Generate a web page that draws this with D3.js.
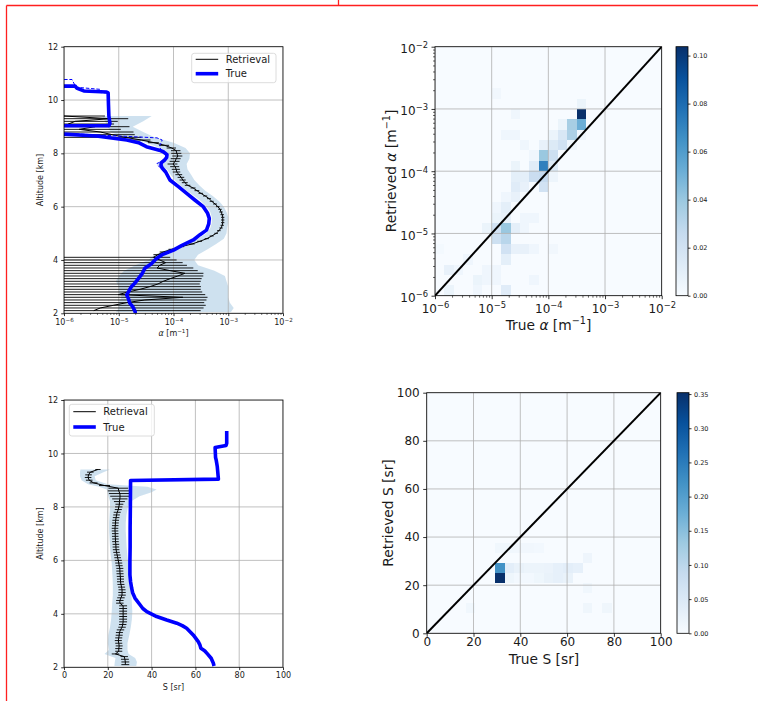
<!DOCTYPE html>
<html><head><meta charset="utf-8">
<script src="https://cdn.jsdelivr.net/npm/d3@7"></script>
<style>
body{margin:0;background:#fff}
svg{display:block}
</style>
</head><body>
<script>
// ---------------- data ----------------
// Retrieval grid (km)
const retAlt = [2.1,2.2,2.3,2.4,2.5,2.6,2.7,2.8,2.9,3.0,
  3.1,3.2,3.3,3.4,3.5,3.6,3.7,3.8,3.9,4.0,
  4.1,4.2,4.3,4.4,4.5,4.6,4.7,4.8,4.9,5.0,
  5.1,5.2,5.3,5.4,5.5,5.6,5.7,5.8,5.9,6.0,
  6.1,6.2,6.3,6.4,6.5,6.6,6.7,6.8,6.9,7.0,
  7.1,7.2,7.3,7.4,7.5,7.6,7.7,7.8,7.9,8.0,
  8.1,8.2,8.3,8.4,8.5,8.6,8.7,8.8,8.9,9.0,
  9.1,9.2,9.3,9.4];

// Retrieved extinction α [m^-1] and its 1σ error
const retAlpha = [3.5e-6,4.6e-6,8.0e-6,1.4e-5,3.0e-5,1.48e-4,9.8e-6,1.48e-5,2.45e-5,3.7e-5,
  5.2e-5,6.5e-5,8.7e-5,1.2e-4,1.62e-4,8.7e-5,5.0e-5,5.6e-5,7.2e-5,5.6e-5,
  4.3e-5,5.2e-5,6.5e-5,9.3e-5,1.38e-4,2.19e-4,3.02e-4,4.07e-4,5.0e-4,6.03e-4,
  6.76e-4,7.4e-4,7.76e-4,7.94e-4,7.94e-4,7.94e-4,7.76e-4,7.4e-4,7.08e-4,6.46e-4,
  5.75e-4,5.0e-4,4.47e-4,3.8e-4,3.16e-4,2.69e-4,2.29e-4,1.82e-4,1.62e-4,1.48e-4,
  1.38e-4,1.26e-4,1.15e-4,1.12e-4,1.07e-4,9.8e-5,1.07e-4,1.12e-4,1.2e-4,1.15e-4,
  1.12e-4,9.3e-5,6.9e-5,4.4e-5,2.6e-5,1.3e-5,7.6e-6,4.6e-6,1.9e-6,3.7e-6,
  1.2e-6,1.6e-6,6.9e-6,1.0e-6];
const retAlphaErr = [3.1e-4,3.5e-4,3.8e-4,3.5e-4,3.7e-4,2.7e-4,3.7e-4,3.2e-4,2.9e-4,2.8e-4,
  2.5e-4,2.5e-4,2.4e-4,2.3e-4,1.9e-4,1.9e-4,1.8e-4,1.2e-4,7.5e-5,5.8e-5,
  4.4e-5,9e-6,9e-6,1.2e-5,1.8e-5,2.4e-5,3.0e-5,3.6e-5,4.2e-5,4.6e-5,
  5.0e-5,5.2e-5,5.4e-5,5.5e-5,5.6e-5,5.6e-5,5.6e-5,5.4e-5,5.2e-5,5.0e-5,
  4.6e-5,4.2e-5,3.8e-5,3.4e-5,3.0e-5,2.7e-5,2.4e-5,2.1e-5,2.0e-5,1.9e-5,
  1.9e-5,1.8e-5,1.8e-5,1.9e-5,2.0e-5,2.0e-5,2.2e-5,2.3e-5,2.5e-5,2.4e-5,
  2.2e-5,1.8e-5,1.4e-5,1.0e-5,1.2e-5,1.3e-5,1.2e-5,1.4e-5,9e-6,1.2e-5,
  7e-6,8e-6,8e-6,4.6e-6];

// Spread of the α retrieval (shaded envelope)
const alphaBandAlt = [2.05,2.2,2.4,2.6,2.8,3.0,3.2,3.4,3.6,3.8,4.0,4.2,4.4,4.6,4.8,5.0,5.2,5.4,5.6,5.8,
  6.0,6.2,6.4,6.6,6.8,7.0,7.2,7.4,7.6,7.8,8.0,8.2,8.4,8.6,8.8,9.0,9.2,9.4];
const alphaBandLo = [8.9e-6,1.0e-5,1.0e-5,1.12e-5,1.0e-5,1.0e-5,8.9e-6,1.0e-5,1.26e-5,2.0e-5,3.5e-5,4.5e-5,7.9e-5,1.6e-4,2.8e-4,4.0e-4,4.7e-4,5.0e-4,5.0e-4,4.7e-4,
  4.0e-4,3.2e-4,2.4e-4,1.74e-4,1.32e-4,1.05e-4,8.9e-5,7.6e-5,5.0e-5,7.1e-5,7.6e-5,5.6e-5,3.2e-5,1.26e-5,7.1e-6,6.3e-6,5.6e-6,5.0e-6];
const alphaBandHi = [1.12e-3,1.26e-3,1.07e-3,1.0e-3,1.0e-3,1.0e-3,9.3e-4,8.7e-4,5.6e-4,2.8e-4,2.4e-4,2.8e-4,4.2e-4,6.0e-4,8.3e-4,9.3e-4,9.5e-4,1.0e-3,1.0e-3,9.3e-4,
  8.3e-4,6.8e-4,5.2e-4,3.8e-4,2.95e-4,2.4e-4,2.1e-4,1.8e-4,1.74e-4,1.95e-4,2.0e-4,1.66e-4,1.0e-4,4.5e-5,2.8e-5,1.8e-5,2.8e-5,4.0e-5];

// True α profile (0 = no aerosol, off the log axis)
const trueAlt = [10.52,10.52,10.45,10.34,10.30,10.27,9.80,9.40,9.12,9.04,9.02,8.73,8.72,8.65,8.50,8.40,8.25,8.12,8.06,7.95,
  7.85,7.75,7.65,7.55,7.45,7.30,7.00,6.75,6.50,6.25,6.00,5.75,5.56,5.35,5.12,4.95,4.75,4.55,4.37,4.20,
  4.06,3.85,3.69,3.50,3.31,3.15,3.00,2.85,2.69,2.55,2.37,2.25,2.06,2.00];
const trueAlpha = [0,1.6e-6,1.7e-6,2.3e-6,6.0e-6,6.4e-6,6.5e-6,6.6e-6,6.9e-6,6.6e-6,0,0,1.0e-6,3.9e-6,1.4e-5,2.3e-5,3.2e-5,5.5e-5,6.5e-5,7.6e-5,
  7.5e-5,6.9e-5,6.0e-5,5.9e-5,6.2e-5,7.2e-5,8.6e-5,1.23e-4,1.74e-4,2.45e-4,3.5e-4,4.2e-4,4.5e-4,4.4e-4,4.0e-4,3.05e-4,2.3e-4,1.43e-4,1.0e-4,6.2e-5,
  4.9e-5,3.9e-5,3.0e-5,2.7e-5,2.3e-5,2.0e-5,1.7e-5,1.55e-5,1.4e-5,1.5e-5,1.6e-5,1.8e-5,2.0e-5,2.0e-5];
// True α at native resolution (dashed)
const trueFineAlt = [10.77,10.77,10.48,10.40,10.28,10.26,9.12,9.04,9.02,8.76,8.74,8.66,8.58,8.50,8.40,8.30,8.15,8.06,7.95,7.75,7.62,7.52,7.42,7.30,7.00];
const trueFineAlpha = [0,1.4e-6,1.65e-6,4.6e-6,4.6e-6,6.4e-6,6.9e-6,6.6e-6,0,0,1.3e-6,8e-6,5.0e-5,6.2e-5,6.0e-5,5.6e-5,5.8e-5,6.5e-5,7.6e-5,6.9e-5,5.0e-5,5.3e-5,6.2e-5,7.2e-5,8.6e-5];

// Retrieved lidar ratio S [sr] and 1σ error (same grid as retAlt)
const retS = [28.0,28.0,27.8,27.5,23.5,25.0,25.0,25.2,25.0,24.8,
  25.0,25.2,25.3,25.8,26.5,26.8,27.0,27.0,27.0,27.0,
  27.0,27.0,27.0,25.5,25.5,26.0,26.5,26.5,26.5,26.3,
  26.0,25.8,25.8,25.7,25.6,25.5,25.5,25.2,25.0,24.8,
  24.5,24.3,24.0,23.8,23.7,23.7,23.5,23.5,23.4,23.4,
  23.3,23.3,23.4,23.5,23.6,23.8,24.0,24.3,24.8,25.0,
  25.3,25.3,25.5,25.6,25.5,25.0,24.8,18.5,13.5,11.5,
  11.0,11.2,12.0,15.5];
const retSErr = [1.8,1.8,1.8,1.7,1.7,1.6,1.6,1.6,1.6,1.6,
  1.6,1.6,1.6,1.7,1.7,1.7,1.8,1.8,1.8,1.8,
  1.8,1.8,1.8,1.7,1.7,1.7,1.7,1.7,1.6,1.6,
  1.6,1.6,1.6,1.6,1.6,1.6,1.6,1.6,1.6,1.6,
  1.5,1.5,1.5,1.5,1.5,1.5,1.5,1.5,1.5,1.5,
  1.5,1.5,1.5,1.5,1.5,1.5,1.5,1.6,1.6,1.7,
  1.8,2.5,3.5,4.5,5.0,5.0,4.5,2.5,1.8,1.5,
  1.5,1.5,1.5,1.2];

// Spread of the S retrieval (shaded envelope)
const sBandAlt = [2.05,2.2,2.35,2.5,2.65,2.9,3.2,3.5,3.8,4.1,4.4,4.7,5.0,5.3,5.6,5.9,6.2,6.5,6.8,7.1,
  7.4,7.7,8.0,8.2,8.4,8.55,8.65,8.75,8.85,9.0,9.15,9.3,9.4];
const sBandLo = [23.0,23.2,23.5,18.5,20.5,20.0,20.2,21.0,21.5,21.8,22.0,22.3,22.3,22.2,22.0,21.8,21.3,21.0,20.8,20.6,
  20.6,20.8,21.0,21.0,20.3,19.8,19.5,16.0,11.0,8.0,7.3,7.3,7.5];
const sBandHi = [33.0,33.3,32.5,29.5,29.0,29.0,29.8,30.5,31.0,31.2,31.0,30.8,30.6,30.4,29.8,29.3,28.9,28.6,28.4,28.2,
  28.2,28.5,29.2,30.5,34.5,40.0,42.3,38.0,20.0,14.5,14.0,18.0,21.0];

// True S profile
const trueSAlt = [2.05,2.15,2.34,2.50,2.62,2.71,2.85,2.96,3.21,3.46,3.56,3.65,3.77,3.90,4.08,4.20,4.34,4.59,4.80,4.96,
  5.20,5.46,5.96,6.50,7.20,8.00,8.99,9.04,9.50,9.75,9.85,10.22,10.30,10.38,10.84];
const trueS = [68.5,68.2,67.2,65.5,64.2,62.5,62.0,61.3,59.0,56.0,54.0,51.5,46.9,42.3,37.8,36.0,34.7,32.4,31.3,30.9,
  30.4,30.1,30.1,30.2,30.2,30.3,30.4,70.5,70.0,69.5,69.2,69.0,74.0,74.3,74.3];

// 2-D histograms (fraction of samples); [true bin, retrieved bin, value], 24 x 24 bins
const alphaHist = [
  [15,17,0.1037],[15,16,0.052],[15,18,0.006],[15,15,0.004],[14,16,0.036],[14,15,0.034],[14,14,0.004],
  [13,16,0.006],[13,15,0.016],[13,14,0.02],[12,15,0.006],[12,14,0.014],[12,13,0.022],[12,12,0.014],[12,11,0.005],
  [11,14,0.008],[11,13,0.040],[11,12,0.072],[11,11,0.026],[11,10,0.020],[10,13,0.004],[10,12,0.012],[10,11,0.024],
  [9,14,0.004],[9,11,0.010],[9,10,0.008],[8,17,0.004],[8,15,0.004],[8,12,0.006],[8,11,0.010],[8,10,0.012],[8,9,0.008],
  [7,15,0.004],[7,9,0.004],[7,8,0.010],[7,7,0.008],[7,6,0.040],[7,5,0.030],[7,4,0.020],[7,3,0.010],[7,0,0.012],
  [6,19,0.003],[6,8,0.004],[6,7,0.006],[6,6,0.020],[6,5,0.022],[6,2,0.004],[6,1,0.004],
  [8,6,0.010],[8,4,0.008],[9,7,0.004],[9,6,0.004],[9,4,0.008],[10,7,0.004],[10,4,0.004],[10,1,0.004],[12,4,0.003],
  [5,6,0.006],[5,2,0.004],[5,1,0.004],[4,1,0.006],[4,0,0.004],[3,3,0.004],[2,2,0.004],[1,2,0.008],[1,0,0.006],[0,4,0.002]
];
const sHist = [
  [7,5,0.352],[7,6,0.22],[8,6,0.035],[9,6,0.025],[10,6,0.02],[11,6,0.02],[12,6,0.022],[13,6,0.03],[14,6,0.035],[15,6,0.03],
  [8,5,0.015],[9,5,0.008],[10,5,0.008],[11,5,0.015],[12,5,0.025],[13,5,0.03],[14,5,0.025],
  [7,8,0.012],[8,8,0.012],[9,8,0.01],[10,8,0.01],[11,8,0.008],
  [16,7,0.016],[16,4,0.012],[16,2,0.014],[18,2,0.014],[4,2,0.012]
];

const altTicks = [2,4,6,8,10,12];
const sTicks = [0,20,40,60,80,100];
const decadeTicks = [1e-6,1e-5,1e-4,1e-3,1e-2];
const cbAlphaTicks = [0,0.02,0.04,0.06,0.08,0.10];
const cbSTicks = [0,0.05,0.10,0.15,0.20,0.25,0.30,0.35];

// ---------------- drawing ----------------
const FONT = '"DejaVu Sans", sans-serif';
const BLUES = ["#f7fbff","#deebf7","#c6dbef","#9ecae1","#6baed6","#4292c6","#2171b5","#08519c","#08306b"];
const blues = d3.scaleLinear().domain(BLUES.map((c,i)=>i/8)).range(BLUES).clamp(true);
const GRID = "#b0b0b0";
const MINUS = "\u2212";

const svg = d3.select("body").append("svg").attr("width",758).attr("height",702)
  .style("font-family",FONT);
const defs = svg.append("defs");

// page outline
svg.append("path").attr("d","M6.5,5.5H758M338.5,0V5.5M6.5,5.5V701")
  .attr("fill","none").attr("stroke","#ff1f1f").attr("stroke-width",1.3);

function clip(id,P){
  defs.append("clipPath").attr("id",id).append("rect")
    .attr("x",P.x0).attr("y",P.y0).attr("width",P.x1-P.x0).attr("height",P.y1-P.y0);
  return "url(#"+id+")";
}
function styleAxis(g,fs){
  g.select(".domain").remove();
  g.attr("font-family",FONT);
  g.selectAll(".tick line").attr("stroke","#000").attr("stroke-width",0.8);
  g.selectAll(".tick text").attr("fill","#1a1a1a").attr("font-size",fs);
}
function powLabels(g,fs,extraDy){
  g.selectAll(".tick text").each(function(d){
    const t = d3.select(this);
    const e = Math.round(Math.log10(d));
    t.text(null);
    if (extraDy) t.attr("dy", extraDy);
    t.append("tspan").text("10");
    t.append("tspan").attr("font-size",fs*0.7).attr("dy",-fs*0.42).text((e<0?MINUS:"")+Math.abs(e));
  });
}
function frame(P){
  svg.append("rect").attr("x",P.x0).attr("y",P.y0).attr("width",P.x1-P.x0).attr("height",P.y1-P.y0)
    .attr("fill","none").attr("stroke","#000").attr("stroke-width",0.8);
}
// text with optional italic / superscript parts
function label(x,y,fs,rot,parts){
  const t = svg.append("text").attr("transform",`translate(${x},${y}) rotate(${rot})`)
    .attr("text-anchor","middle").attr("font-size",fs).attr("fill","#1a1a1a");
  let raised = false;
  parts.forEach(p=>{
    const s = t.append("tspan").text(p.t);
    if (p.i) s.attr("font-style","italic");
    if (p.sup){ s.attr("font-size",fs*0.7).attr("dy",-fs*0.42); raised = true; }
    else if (raised){ s.attr("dy",fs*0.42); raised = false; }
  });
}
function gridLines(P,xs,ys,xv,yv,cp){
  const g = svg.append("g").attr("clip-path",cp);
  g.selectAll(".gx").data(xv).join("line").attr("x1",d=>xs(d)).attr("x2",d=>xs(d))
    .attr("y1",P.y0).attr("y2",P.y1).attr("stroke",GRID).attr("stroke-width",0.8);
  g.selectAll(".gy").data(yv).join("line").attr("y1",d=>ys(d)).attr("y2",d=>ys(d))
    .attr("x1",P.x0).attr("x2",P.x1).attr("stroke",GRID).attr("stroke-width",0.8);
}
function legendBox(x,y,w,h,rows){
  svg.append("rect").attr("x",x).attr("y",y).attr("width",w).attr("height",h).attr("rx",2.5)
    .attr("fill","#fff").attr("fill-opacity",0.8).attr("stroke","#d3d3d3").attr("stroke-width",0.8);
  rows.forEach(r=>{
    svg.append("line").attr("x1",x+4).attr("x2",x+26.5).attr("y1",r.y).attr("y2",r.y)
      .attr("stroke",r.color).attr("stroke-width",r.w);
    svg.append("text").attr("x",x+34).attr("y",r.y+3.6).attr("font-size",10).attr("fill","#1a1a1a").text(r.t);
  });
}
const pos = v => v > 0 ? v : 1e-12;   // non-positive values clipped off the log axis

// ===== top-left: α profile =====
const A = {x0:64,x1:283,y0:46.7,y1:313.3};
const xA = d3.scaleLog().domain([1e-6,1e-2]).range([A.x0,A.x1]);
const yA = d3.scaleLinear().domain([2,12]).range([A.y1,A.y0]);
const cpA = clip("cpA",A);
const gA = svg.append("g").attr("clip-path",cpA);
gA.append("path").datum(alphaBandAlt.map((a,i)=>({a,lo:alphaBandLo[i],hi:alphaBandHi[i]})))
  .attr("d",d3.area().y(d=>yA(d.a)).x0(d=>xA(d.lo)).x1(d=>xA(d.hi)))
  .attr("fill","#1f77b4").attr("fill-opacity",0.22);
gridLines(A,xA,yA,decadeTicks,altTicks,cpA);
const gA2 = svg.append("g").attr("clip-path",cpA);
gA2.selectAll(".eb").data(retAlt.map((a,i)=>({a,v:retAlpha[i],e:retAlphaErr[i]}))).join("line")
  .attr("x1",d=>xA(pos(d.v-d.e))).attr("x2",d=>xA(d.v+d.e))
  .attr("y1",d=>yA(d.a)).attr("y2",d=>yA(d.a)).attr("stroke","#000").attr("stroke-width",0.9);
gA2.append("path").datum(retAlt.map((a,i)=>[retAlpha[i],a]))
  .attr("d",d3.line().x(d=>xA(d[0])).y(d=>yA(d[1])))
  .attr("fill","none").attr("stroke","#000").attr("stroke-width",1);
gA2.append("path").datum(trueFineAlt.map((a,i)=>[pos(trueFineAlpha[i]),a]))
  .attr("d",d3.line().x(d=>xA(d[0])).y(d=>yA(d[1])))
  .attr("fill","none").attr("stroke","#0000ff").attr("stroke-width",1).attr("stroke-dasharray","3.5,1.8");
gA2.append("path").datum(trueAlt.map((a,i)=>[pos(trueAlpha[i]),a]))
  .attr("d",d3.line().x(d=>xA(d[0])).y(d=>yA(d[1])))
  .attr("fill","none").attr("stroke","#0000ff").attr("stroke-width",3.6).attr("stroke-linejoin","round");
frame(A);
{
  const gx = svg.append("g").attr("transform",`translate(0,${A.y1})`)
    .call(d3.axisBottom(xA).tickValues(decadeTicks).tickSize(2.8).tickPadding(3.2));
  styleAxis(gx,8); powLabels(gx,8);
  const gm = svg.append("g").attr("transform",`translate(0,${A.y1})`)
    .call(d3.axisBottom(xA).tickValues(xA.ticks().filter(d=>!decadeTicks.some(t=>Math.abs(t-d)/t<1e-6))).tickSize(1.6).tickFormat(""));
  styleAxis(gm,8); gm.selectAll(".tick line").attr("stroke-width",0.6);
  const gy = svg.append("g").attr("transform",`translate(${A.x0},0)`)
    .call(d3.axisLeft(yA).tickValues(altTicks).tickSize(2.8).tickPadding(3));
  styleAxis(gy,8);
}
label(42.5,180,8,-90,[{t:"Altitude [km]"}]);
label(173.5,336,8,0,[{t:"α",i:true},{t:" [m"},{t:MINUS+"1",sup:true},{t:"]"}]);
legendBox(191.7,53.3,84.3,29.4,[{y:59.3,t:"Retrieval",color:"#000",w:1},{y:73.7,t:"True",color:"#0000ff",w:3.6}]);

// ===== bottom-left: S profile =====
const C = {x0:64,x1:283,y0:400,y1:667.3};
const xC = d3.scaleLinear().domain([0,100]).range([C.x0,C.x1]);
const yC = d3.scaleLinear().domain([2,12]).range([C.y1,C.y0]);
const cpC = clip("cpC",C);
svg.append("g").attr("clip-path",cpC).append("path")
  .datum(sBandAlt.map((a,i)=>({a,lo:sBandLo[i],hi:sBandHi[i]})))
  .attr("d",d3.area().curve(d3.curveLinear).y(d=>yC(d.a)).x0(d=>xC(d.lo)).x1(d=>xC(d.hi)))
  .attr("fill","#1f77b4").attr("fill-opacity",0.22);
gridLines(C,xC,yC,sTicks,altTicks,cpC);
const gC = svg.append("g").attr("clip-path",cpC);
gC.selectAll(".eb").data(retAlt.map((a,i)=>({a,v:retS[i],e:retSErr[i]}))).join("line")
  .attr("x1",d=>xC(d.v-d.e)).attr("x2",d=>xC(d.v+d.e))
  .attr("y1",d=>yC(d.a)).attr("y2",d=>yC(d.a)).attr("stroke","#000").attr("stroke-width",0.9);
gC.append("path").datum(retAlt.map((a,i)=>[retS[i],a]))
  .attr("d",d3.line().x(d=>xC(d[0])).y(d=>yC(d[1])))
  .attr("fill","none").attr("stroke","#000").attr("stroke-width",1);
gC.append("path").datum(trueSAlt.map((a,i)=>[trueS[i],a]))
  .attr("d",d3.line().x(d=>xC(d[0])).y(d=>yC(d[1])))
  .attr("fill","none").attr("stroke","#0000ff").attr("stroke-width",3.6).attr("stroke-linejoin","round");
frame(C);
{
  const gx = svg.append("g").attr("transform",`translate(0,${C.y1})`)
    .call(d3.axisBottom(xC).tickValues(sTicks).tickSize(2.8).tickPadding(2));
  styleAxis(gx,8);
  const gy = svg.append("g").attr("transform",`translate(${C.x0},0)`)
    .call(d3.axisLeft(yC).tickValues(altTicks).tickSize(2.8).tickPadding(3));
  styleAxis(gy,8);
}
label(42.5,533.5,8,-90,[{t:"Altitude [km]"}]);
label(173.5,690,8,0,[{t:"S [sr]"}]);
legendBox(69.3,404.3,85,31.7,[{y:411.7,t:"Retrieval",color:"#000",w:1},{y:427,t:"True",color:"#0000ff",w:3.6}]);

// ===== heatmap helper =====
function heatmap(P,xs,ys,cells,edge,cp){
  const vmax = d3.max(cells,c=>c[2]);
  const g = svg.append("g").attr("clip-path",cp);
  g.append("rect").attr("x",P.x0).attr("y",P.y0).attr("width",P.x1-P.x0).attr("height",P.y1-P.y0)
    .attr("fill",blues(0));
  g.selectAll(".cell").data(cells).join("rect")
    .attr("x",d=>xs(edge(d[0]))).attr("y",d=>ys(edge(d[1]+1)))
    .attr("width",d=>xs(edge(d[0]+1))-xs(edge(d[0])))
    .attr("height",d=>ys(edge(d[1]))-ys(edge(d[1]+1)))
    .attr("fill",d=>blues(d[2]/vmax)).attr("shape-rendering","crispEdges");
  return vmax;
}
function colorbar(id,P,vmax,ticks){
  const gr = defs.append("linearGradient").attr("id",id).attr("x1",0).attr("y1",1).attr("x2",0).attr("y2",0);
  BLUES.forEach((c,i)=>gr.append("stop").attr("offset",i/8).attr("stop-color",c));
  svg.append("rect").attr("x",P.x0).attr("y",P.y0).attr("width",P.x1-P.x0).attr("height",P.y1-P.y0)
    .attr("fill",`url(#${id})`).attr("stroke","#000").attr("stroke-width",0.8);
  const s = d3.scaleLinear().domain([0,vmax]).range([P.y1,P.y0]);
  const g = svg.append("g").attr("transform",`translate(${P.x1},0)`)
    .call(d3.axisRight(s).tickValues(ticks).tickSize(2.5).tickPadding(2.5).tickFormat(d3.format(".2f")));
  styleAxis(g,6.5);
}

// ===== top-right: α histogram =====
const B = {x0:435,x1:661.7,y0:46.7,y1:295.7};
const xB = d3.scaleLog().domain([1e-6,1e-2]).range([B.x0,B.x1]);
const yB = d3.scaleLog().domain([1e-6,1e-2]).range([B.y1,B.y0]);
const cpB = clip("cpB",B);
const aEdge = k => Math.pow(10,-6 + k*4/24);
const vmaxA = heatmap(B,xB,yB,alphaHist,aEdge,cpB);
gridLines(B,xB,yB,decadeTicks,decadeTicks,cpB);
svg.append("g").attr("clip-path",cpB).append("line")
  .attr("x1",xB(1e-6)).attr("y1",yB(1e-6)).attr("x2",xB(1e-2)).attr("y2",yB(1e-2))
  .attr("stroke","#000").attr("stroke-width",2);
frame(B);
{
  const minor = xB.ticks().filter(d=>!decadeTicks.some(t=>Math.abs(t-d)/t<1e-6));
  const gx = svg.append("g").attr("transform",`translate(0,${B.y1})`)
    .call(d3.axisBottom(xB).tickValues(decadeTicks).tickSize(3.5).tickPadding(3.5));
  styleAxis(gx,12); powLabels(gx,12,"0.9em");
  const gxm = svg.append("g").attr("transform",`translate(0,${B.y1})`)
    .call(d3.axisBottom(xB).tickValues(minor).tickSize(2).tickFormat(""));
  styleAxis(gxm,12); gxm.selectAll(".tick line").attr("stroke-width",0.6);
  const gy = svg.append("g").attr("transform",`translate(${B.x0},0)`)
    .call(d3.axisLeft(yB).tickValues(decadeTicks).tickSize(3.5).tickPadding(3.5));
  styleAxis(gy,12); powLabels(gy,12,"0.5em");
  const gym = svg.append("g").attr("transform",`translate(${B.x0},0)`)
    .call(d3.axisLeft(yB).tickValues(minor).tickSize(2).tickFormat(""));
  styleAxis(gym,12); gym.selectAll(".tick line").attr("stroke-width",0.6);
}
label(396,171,13.8,-90,[{t:"Retrieved "},{t:"α",i:true},{t:" [m"},{t:MINUS+"1",sup:true},{t:"]"}]);
label(548.5,330,13.8,0,[{t:"True "},{t:"α",i:true},{t:" [m"},{t:MINUS+"1",sup:true},{t:"]"}]);
colorbar("cbA",{x0:676,x1:688,y0:46.7,y1:295.7},vmaxA,cbAlphaTicks);

// ===== bottom-right: S histogram =====
const D = {x0:426.7,x1:660.7,y0:392.7,y1:633.3};
const xD = d3.scaleLinear().domain([0,100]).range([D.x0,D.x1]);
const yD = d3.scaleLinear().domain([0,100]).range([D.y1,D.y0]);
const cpD = clip("cpD",D);
const sEdge = k => k*100/24;
const vmaxS = heatmap(D,xD,yD,sHist,sEdge,cpD);
gridLines(D,xD,yD,sTicks,sTicks,cpD);
svg.append("g").attr("clip-path",cpD).append("line")
  .attr("x1",xD(0)).attr("y1",yD(0)).attr("x2",xD(100)).attr("y2",yD(100))
  .attr("stroke","#000").attr("stroke-width",2);
frame(D);
{
  const gx = svg.append("g").attr("transform",`translate(0,${D.y1})`)
    .call(d3.axisBottom(xD).tickValues(sTicks).tickSize(3.5).tickPadding(0.8));
  styleAxis(gx,12);
  const gy = svg.append("g").attr("transform",`translate(${D.x0},0)`)
    .call(d3.axisLeft(yD).tickValues(sTicks).tickSize(3.5).tickPadding(3.5));
  styleAxis(gy,12);
}
label(393,513,13.8,-90,[{t:"Retrieved S [sr]"}]);
label(544,664,13.8,0,[{t:"True S [sr]"}]);
colorbar("cbS",{x0:677,x1:689,y0:392.7,y1:633.3},vmaxS,cbSTicks);
</script>
</body></html>
